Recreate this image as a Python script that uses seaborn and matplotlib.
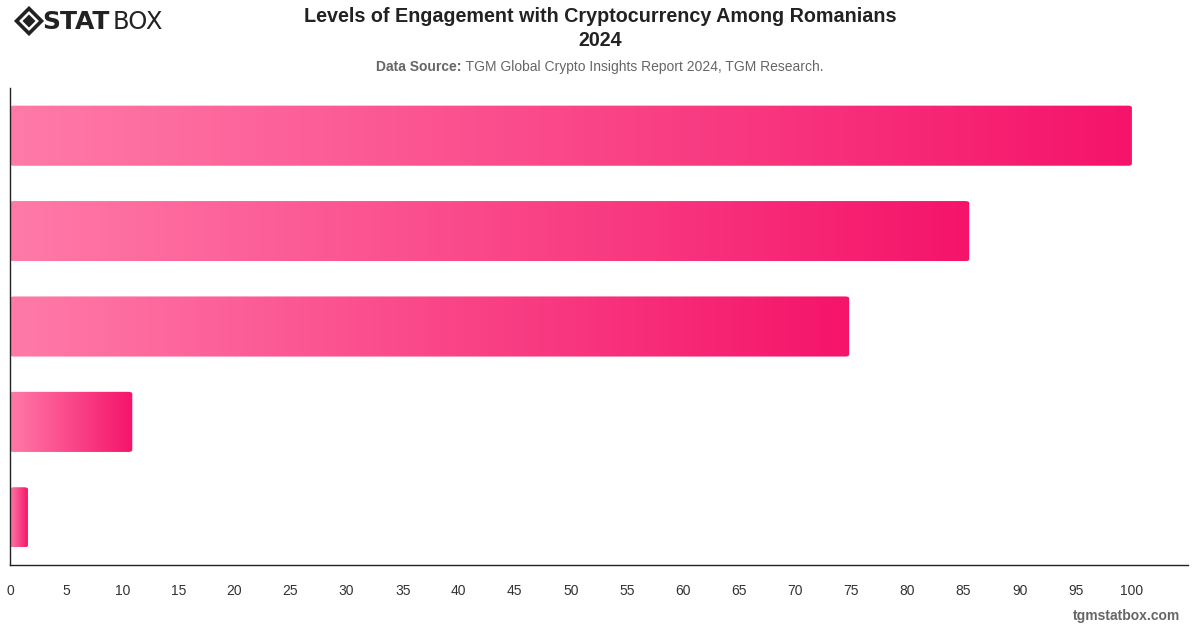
import numpy as np
import pandas as pd
import matplotlib
matplotlib.use("Agg")
import matplotlib.pyplot as plt
import seaborn as sns
from matplotlib.colors import LinearSegmentedColormap
from matplotlib.patches import FancyBboxPatch, RegularPolygon

categories = ["Level 1", "Level 2", "Level 3", "Level 4", "Level 5"]
values = [100.0, 85.5, 74.8, 10.9, 1.6]
xticks = list(range(0, 101, 5))

df = pd.DataFrame({"category": categories, "value": values})

sns.set_style("white")
plt.rcParams["font.family"] = ["Liberation Sans", "DejaVu Sans"]

W, H = 1200, 628
fig = plt.figure(figsize=(12, 6.28), dpi=100)
ax = fig.add_axes([10/W, 1-565/H, (1188-10)/W, (565-88)/H])

sns.barplot(data=df, x="value", y="category", ax=ax, orient="h",
            width=0.63, color="#f5166a")

cmap = LinearSegmentedColormap.from_list("g", ["#ff7aa8", "#f5146a"])
grad = np.linspace(0, 1, 256).reshape(1, -1)
for p in list(ax.patches):
    x0, y0 = p.get_x(), p.get_y()
    w, h = p.get_width(), p.get_height()
    p.set_visible(False)
    clip = FancyBboxPatch((x0, y0), w, h, boxstyle="round,pad=0,rounding_size=0.35",
                          mutation_aspect=0.06, transform=ax.transData,
                          facecolor="none", edgecolor="none")
    ax.add_patch(clip)
    im = ax.imshow(grad, extent=[x0, x0 + w, y0 + h, y0], cmap=cmap,
                   aspect="auto", zorder=2, interpolation="bilinear")
    im.set_clip_path(clip)

ax.set_xlim(0, 105)
ax.set_ylim(4.5, -0.5)
ax.set_xticks(xticks)
ax.set_xticklabels([str(t) for t in xticks], fontsize=10, color="#333333")
ax.set_yticks([])
ax.set_xlabel("")
ax.set_ylabel("")
ax.tick_params(axis="x", length=0, pad=14)
for s in ["top", "right"]:
    ax.spines[s].set_visible(False)
for s in ["left", "bottom"]:
    ax.spines[s].set_color("#222222")
    ax.spines[s].set_linewidth(1.0)

fig.text(0.5, 1-17/H, "Levels of Engagement with Cryptocurrency Among Romanians",
         ha="center", va="center", fontsize=14.2, fontweight="bold", color="#222222")
fig.text(0.5, 1-41/H, "2024", ha="center", va="center", fontsize=14.2,
         fontweight="bold", color="#222222")

src_bold = "Data Source:"
src_rest = " TGM Global Crypto Insights Report 2024, TGM Research."
renderer = fig.canvas.get_renderer()
tb = fig.text(0, 1-67/H, src_bold, ha="left", va="center", fontsize=10,
              fontweight="bold", color="#666666")
tr = fig.text(0, 1-67/H, src_rest, ha="left", va="center", fontsize=10,
              color="#666666")
wb = tb.get_window_extent(renderer).width
wr = tr.get_window_extent(renderer).width
start = (W - (wb + wr)) / 2
tb.set_x(start / W)
tr.set_x((start + wb) / W)

fig.text(1180/W, 1-616/H, "tgmstatbox.com", ha="right", va="center",
         fontsize=10, fontweight="bold", color="#666666")

# logo
cx, cy = 0.29, (H - 21) / 100
fig.patches.append(RegularPolygon((cx, cy), numVertices=4, radius=0.125,
                                  transform=fig.dpi_scale_trans, facecolor="none",
                                  edgecolor="#222222", linewidth=2.6))
fig.patches.append(RegularPolygon((cx, cy), numVertices=4, radius=0.065,
                                  transform=fig.dpi_scale_trans, facecolor="#222222",
                                  edgecolor="none"))
fig.text(42/W, 1-22/H, "STAT", ha="left", va="center", fontsize=18,
         fontweight="heavy", color="#222222", family="DejaVu Sans")
fig.text(113/W, 1-22/H, "BOX", ha="left", va="center", fontsize=17.5,
         color="#222222", family="DejaVu Sans")

fig.savefig("out.png", dpi=100)
